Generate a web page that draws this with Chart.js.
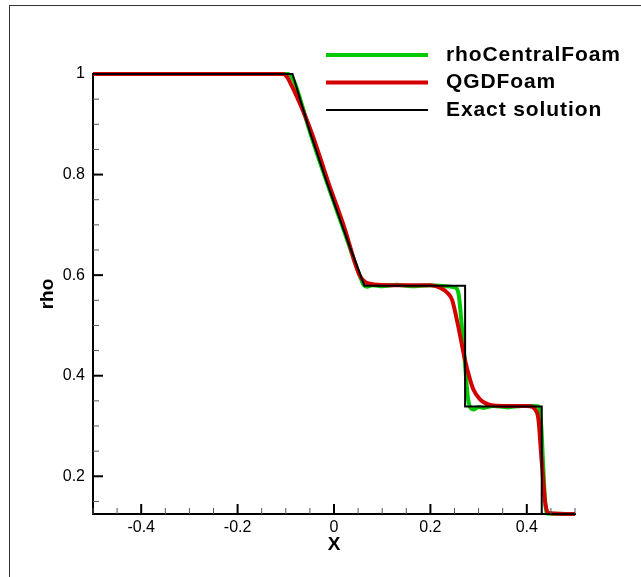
<!DOCTYPE html>
<html>
<head>
<meta charset="utf-8">
<script src="https://cdn.jsdelivr.net/npm/chart.js@4.4.1/dist/chart.umd.min.js"></script>
<style>
  html, body { margin: 0; padding: 0; background: #fff; overflow: hidden; }
  #wrap { position: relative; width: 641px; height: 577px; }
  #frame { position: absolute; left: 9px; top: 5px; width: 700px; height: 700px;
           border-left: 1px solid #333; border-top: 1px solid #333; pointer-events: none; }
</style>
</head>
<body>
<div id="wrap">
  <canvas id="rhoChart"></canvas>
  <div id="frame"></div>
</div>
<script>
// series values
const exactX = [-0.5, -0.086, -0.05, -0.015, 0.02, 0.063, 0.272, 0.272, 0.431, 0.431, 0.5];
const exactRho = [1, 1, 0.885, 0.785, 0.69, 0.579, 0.579, 0.339, 0.339, 0.125, 0.125];

const centralX = [-0.5, -0.095, -0.085, -0.075, -0.05, -0.015, 0.02, 0.055, 0.062, 0.068, 0.08, 0.1, 0.13, 0.16, 0.2, 0.23,
  0.25, 0.258, 0.265, 0.272, 0.278, 0.284, 0.29, 0.3, 0.31, 0.33, 0.36, 0.39, 0.415, 0.424, 0.43, 0.434, 0.438, 0.442, 0.5];
const centralRho = [1, 1, 0.99, 0.965, 0.885, 0.785, 0.69, 0.595, 0.58, 0.577, 0.58, 0.578, 0.581, 0.578, 0.58, 0.578,
  0.576, 0.565, 0.5, 0.42, 0.355, 0.335, 0.333, 0.338, 0.336, 0.34, 0.337, 0.34, 0.34, 0.339, 0.3, 0.22, 0.15, 0.126, 0.125];

const qgdX = [-0.5, -0.105, -0.098, -0.091, -0.077, -0.047, -0.012, 0.023, 0.045, 0.054, 0.065, 0.075, 0.09, 0.15, 0.2, 0.22,
  0.235, 0.245, 0.258, 0.269, 0.277, 0.289, 0.303, 0.315, 0.324, 0.35, 0.4, 0.412, 0.417, 0.424, 0.431, 0.438, 0.445, 0.5];
const qgdRho = [1, 1, 0.995, 0.983, 0.955, 0.885, 0.785, 0.69, 0.62, 0.598, 0.586, 0.583, 0.581, 0.58, 0.58, 0.575,
  0.565, 0.551, 0.497, 0.444, 0.411, 0.373, 0.353, 0.345, 0.342, 0.34, 0.34, 0.338, 0.333, 0.314, 0.228, 0.149, 0.127, 0.125];

const seriesNames = ['rhoCentralFoam', 'QGDFoam', 'Exact solution'];

// axis ranges and ticks
const xRange = [-0.5, 0.5];
const yRange = [0.125, 1.0];
const minorStep = 0.05;
const majorStep = 0.2;

const FONT = '"Liberation Sans", Arial, sans-serif';

function toPoints(xs, ys) {
  return xs.map((x, i) => ({ x: x, y: ys[i] }));
}
function isMajor(v) {
  const r = v / majorStep;
  return Math.abs(r - Math.round(r)) < 1e-6;
}
function fmt(v) {
  return String(Number(v.toFixed(2)));
}

/** inward tick marks like the original plot */
const inwardTicks = {
  id: 'inwardTicks',
  afterDraw(chart) {
    const ctx = chart.ctx;
    const area = chart.chartArea;
    ctx.save();
    chart.scales.x.ticks.forEach(t => {
      const px = chart.scales.x.getPixelForValue(t.value);
      const major = isMajor(t.value);
      ctx.strokeStyle = major ? '#000' : '#555';
      ctx.lineWidth = major ? 2 : 1;
      ctx.beginPath();
      ctx.moveTo(px, area.bottom);
      ctx.lineTo(px, area.bottom - (major ? 10 : 6));
      ctx.stroke();
    });
    chart.scales.y.ticks.forEach(t => {
      const py = chart.scales.y.getPixelForValue(t.value);
      const major = isMajor(t.value);
      ctx.strokeStyle = major ? '#000' : '#555';
      ctx.lineWidth = major ? 2 : 1;
      ctx.beginPath();
      ctx.moveTo(area.left, py);
      ctx.lineTo(area.left + (major ? 10 : 6), py);
      ctx.stroke();
    });
    ctx.restore();
  }
};

/** legend placed at the top right, one entry per row */
const lineLegend = {
  id: 'lineLegend',
  afterDraw(chart) {
    const ctx = chart.ctx;
    ctx.save();
    ctx.font = 'bold 21px ' + FONT;
    ctx.letterSpacing = '0.9px';
    ctx.textBaseline = 'middle';
    ctx.textAlign = 'left';
    chart.data.datasets.forEach((ds, i) => {
      const y = 55 + i * 27.5;
      ctx.strokeStyle = ds.borderColor;
      ctx.lineWidth = ds.borderWidth;
      ctx.beginPath();
      ctx.moveTo(326, y);
      ctx.lineTo(428, y);
      ctx.stroke();
      ctx.fillStyle = '#000';
      ctx.fillText(ds.label, 446, y);
    });
    ctx.restore();
  }
};

document.addEventListener("DOMContentLoaded", function () {
  const ctx = document.getElementById('rhoChart').getContext('2d');
  new Chart(ctx, {
    type: 'line',
    data: {
      datasets: [{
        label: seriesNames[0],
        data: toPoints(centralX, centralRho),
        borderColor: '#00c800',
        borderWidth: 4,
        cubicInterpolationMode: 'monotone',
        pointRadius: 0,
        clip: false,
        order: 3
      }, {
        label: seriesNames[1],
        data: toPoints(qgdX, qgdRho),
        borderColor: '#d40000',
        borderWidth: 4,
        cubicInterpolationMode: 'monotone',
        pointRadius: 0,
        clip: false,
        order: 2
      }, {
        label: seriesNames[2],
        data: toPoints(exactX, exactRho),
        borderColor: '#000000',
        borderWidth: 2,
        tension: 0,
        pointRadius: 0,
        clip: false,
        order: 1
      }]
    },
    options: {
      responsive: true,
      maintainAspectRatio: false,
      animation: false,
      layout: { padding: { left: 0, right: 66, top: 74, bottom: 0 } },
      plugins: {
        legend: { display: false },
        tooltip: { enabled: false }
      },
      scales: {
        x: {
          type: 'linear',
          min: xRange[0],
          max: xRange[1],
          afterFit: function (scale) { scale.height = 63; },
          grid: { display: false, drawTicks: false },
          border: { display: true, color: '#000', width: 2 },
          ticks: {
            stepSize: minorStep,
            autoSkip: false,
            maxRotation: 0,
            padding: 4,
            color: '#000',
            font: { family: FONT, size: 16 },
            callback: function (v) { return isMajor(v) ? fmt(v) : ''; }
          },
          title: {
            display: true,
            text: 'X',
            color: '#000',
            font: { family: FONT, size: 19, weight: 'bold' },
            padding: { top: 0, bottom: 21 }
          }
        },
        y: {
          type: 'linear',
          min: yRange[0],
          max: yRange[1],
          afterFit: function (scale) { scale.width = 93; },
          grid: { display: false, drawTicks: false },
          border: { display: true, color: '#000', width: 2 },
          ticks: {
            stepSize: minorStep,
            includeBounds: false,
            autoSkip: false,
            padding: 8,
            color: '#000',
            font: { family: FONT, size: 16 },
            callback: function (v) { return isMajor(v) ? fmt(v) : ''; }
          },
          title: {
            display: true,
            text: 'rho',
            color: '#000',
            font: { family: FONT, size: 19, weight: 'bold' },
            padding: { top: 36, bottom: 0 }
          }
        }
      }
    },
    plugins: [inwardTicks, lineLegend]
  });
});
</script>
</body>
</html>
